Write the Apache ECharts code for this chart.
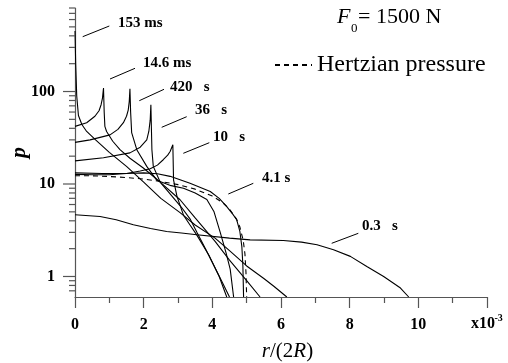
<!DOCTYPE html>
<html><head><meta charset="utf-8">
<script src="https://cdn.jsdelivr.net/npm/echarts@6/dist/echarts.min.js"></script>
<style>html,body{margin:0;padding:0;background:#fff}#c{width:508px;height:363px}</style>
</head><body><div id="c"></div>
<script>
// x in units of 1e-3 (r/(2R)), p values
const curve153ms = [[0,450],[0.02,200],[0.05,90],[0.1,55],[0.2,44],[0.34,37],[0.6,30],[1.0,22],[1.5,15.5],[2.0,10.5],[2.5,7.0],[3.06,4.9],[3.5,3.6],[4.08,2.6],[4.5,1.9],[5.0,1.3],[5.5,0.95],[5.8,0.78],[6.17,0.6]];
const curve14_6ms = [[0,42],[0.34,46],[0.58,54],[0.7,62],[0.76,72],[0.8,85],[0.83,109],[0.85,60],[0.87,42],[0.92,37],[1.1,29],[1.31,23.5],[1.6,19],[1.99,14.9],[2.48,10.5],[3.06,6.76],[3.5,4.3],[4.08,2.4],[4.5,1.5],[5.0,0.9],[5.39,0.6]];
const curve420s = [[0,28.2],[0.44,30],[1.02,34],[1.25,39],[1.41,46],[1.5,54],[1.55,63],[1.58,78],[1.6,107],[1.62,60],[1.65,36],[1.8,23.5],[2.09,15.5],[2.38,11],[2.8,9.6],[3.16,9.0],[3.5,8.0],[3.84,6.8],[4.05,5.0],[4.23,3.0],[4.4,1.8],[4.52,1.2],[4.62,0.6]];
const curve36s = [[0,17.8],[0.83,19.2],[1.6,21.7],[1.9,25],[2.09,30],[2.15,37],[2.19,49],[2.21,72],[2.24,23.5],[2.28,15.5],[2.48,10.5],[2.8,7.6],[3.1,5.6],[3.35,4.2],[3.55,3.0],[3.8,2.0],[4.1,1.2],[4.3,0.85],[4.5,0.6]];
const curve10s = [[0,12.7],[0.5,12.6],[1.0,12.6],[1.5,13.0],[1.9,13.8],[2.19,14.6],[2.4,16.0],[2.57,18.3],[2.7,20.5],[2.77,22.5],[2.85,26.6],[2.87,11.1],[2.97,7.35],[3.16,4.6],[3.35,3.6],[3.55,2.8],[3.9,1.7],[4.2,1.0],[4.42,0.6]];
const curve4_1s = [[0,13.2],[0.8,13.0],[1.5,13.0],[2.0,13.2],[2.4,12.9],[2.77,12.1],[3.35,10.2],[3.94,8.3],[4.2,7.0],[4.42,5.7],[4.6,4.7],[4.71,4.1],[4.8,3.1],[4.86,2.1],[4.89,1.3],[4.91,0.6]];
const curve0_3s = [[0,4.65],[0.73,4.46],[1.2,4.1],[1.7,3.63],[2.2,3.3],[2.67,3.07],[3.1,2.95],[3.55,2.83],[4.5,2.6],[5.1,2.49],[6.07,2.45],[6.6,2.35],[7.05,2.2],[7.53,1.95],[8.02,1.65],[8.5,1.28],[8.99,1.0],[9.48,0.75],[9.72,0.6]];
const hertzian = [[0,12.3],[0.5,12.25],[1,12.05],[1.5,11.75],[2,11.3],[2.5,10.65],[3,9.85],[3.5,8.8],[4,7.4],[4.3,6.3],[4.5,5.35],[4.7,4.2],[4.8,3.45],[4.9,2.45],[4.95,1.75],[4.98,1.1],[5.0,0.6]];
const yMajorTicks = [1, 10, 100];
const yMinorTicks = [0.7,0.8,0.9,2,3,4,5,6,7,8,9,20,30,40,50,60,70,80,90,200,300,400,500,600,700,800];
const curveLabels = ['153 ms','14.6 ms','420   s','36   s','10   s','4.1 s','0.3   s'];

const SERIF = '"Liberation Serif","Times New Roman",serif';
const AX = '#555';
const chart = echarts.init(document.getElementById('c'), null, {renderer:'canvas'});

function lineSeries(name, data, dashed){
  return {type:'line', name, data, showSymbol:false, symbol:'none', smooth:false,
    lineStyle:{color:'#000', width:1.1, type: dashed ? [5,4] : 'solid'},
    itemStyle:{color:'#000'}, silent:true, animation:false, z:3};
}
function tickSeries(values, len){
  return {type:'custom', data: values.map(v=>[0,v]), clip:false, silent:true, animation:false, z:4,
    renderItem:(params, api)=>{
      const p = api.coord([0, api.value(1)]);
      return {type:'line', shape:{x1:p[0]-len, y1:p[1], x2:p[0], y2:p[1]}, style:{stroke:AX, lineWidth:1.2}};
    }};
}
// annotation positions (pixels)
const labelPos = [[118,25],[143,65],[170,89],[195,112],[213,139],[262,180],[362,228]];
const leaderPos = [[82.7,36.7,109.3,26],[110,79,135,68.3],[139.3,100.7,164,89.3],[161.7,127.3,186.7,116.7],[183.3,153.3,209.3,142.7],[228.3,194,253.3,183.3],[331.7,243.3,358.3,233.3]];
const graphics = [];
curveLabels.forEach((t,i)=>{
  graphics.push({type:'text', left:labelPos[i][0], top:labelPos[i][1]-9, style:{text:t, font:'bold 15px '+SERIF, fill:'#000'}});
  const l = leaderPos[i];
  graphics.push({type:'line', shape:{x1:l[0],y1:l[1],x2:l[2],y2:l[3]}, style:{stroke:'#000', lineWidth:1}});
});
graphics.push({type:'text', left:337, top:6, style:{text:'F', font:'italic 22px '+SERIF, fill:'#000'}});
graphics.push({type:'text', left:351, top:22, style:{text:'0', font:'13px '+SERIF, fill:'#000'}});
graphics.push({type:'text', left:358, top:6, style:{text:'= 1500 N', font:'22px '+SERIF, fill:'#000'}});
graphics.push({type:'text', left:471, top:316, style:{text:'x10', font:'bold 16px '+SERIF, fill:'#000'}});
graphics.push({type:'text', left:494.5, top:313, style:{text:'-3', font:'bold 10px '+SERIF, fill:'#000'}});

chart.setOption({
  animation:false,
  grid:{left:75, right:21, top:8, bottom:66, containLabel:false, outerBoundsMode:'none'},
  legend:{data:['Hertzian pressure'], left:269, top:48, itemWidth:37, itemHeight:14, itemGap:5,
    itemStyle:{color:'rgba(0,0,0,0)', borderColor:'rgba(0,0,0,0)', borderWidth:0},
    textStyle:{fontFamily:SERIF, fontSize:24, color:'#000'}, selectedMode:false},
  xAxis:{type:'value', min:0, max:12, interval:2,
    axisLine:{onZero:false, lineStyle:{color:AX, width:1.2}},
    axisTick:{show:true, inside:false, length:11, lineStyle:{color:AX, width:1.2}},
    minorTick:{show:true, splitNumber:2, length:6, lineStyle:{color:AX, width:1.2}},
    splitLine:{show:false}, minorSplitLine:{show:false},
    axisLabel:{margin:20, fontFamily:SERIF, fontWeight:'bold', fontSize:16, color:'#000',
      formatter:v=> v===12 ? '' : String(v)},
    name:'{i|r}{n|/(2}{i|R}{n|)}', nameLocation:'middle', nameGap:44, nameMoveOverlap:false,
    nameTextStyle:{padding:[0,0,0,13], rich:{i:{fontFamily:SERIF, fontStyle:'italic', fontSize:21, color:'#000'}, n:{fontFamily:SERIF, fontSize:21, color:'#000'}}}
  },
  yAxis:{type:'log', logBase:10, min:0.6, max:800,
    axisLine:{show:true, onZero:false, lineStyle:{color:AX, width:1.2}},
    axisTick:{show:false}, splitLine:{show:false},
    axisLabel:{margin:20, fontFamily:SERIF, fontWeight:'bold', fontSize:16, color:'#000',
      formatter:v=>{const l=Math.log10(v); return Math.abs(l-Math.round(l))<1e-6 ? String(Math.round(Math.pow(10,Math.round(l)))) : '';}},
    name:'p', nameLocation:'middle', nameGap:45, nameRotate:90, nameMoveOverlap:false,
    nameTextStyle:{fontFamily:SERIF, fontStyle:'italic', fontWeight:'bold', fontSize:22, color:'#000'}
  },
  series:[
    lineSeries('153 ms', curve153ms),
    lineSeries('14.6 ms', curve14_6ms),
    lineSeries('420 s', curve420s),
    lineSeries('36 s', curve36s),
    lineSeries('10 s', curve10s),
    lineSeries('4.1 s', curve4_1s),
    lineSeries('0.3 s', curve0_3s),
    lineSeries('Hertzian pressure', hertzian, true),
    tickSeries(yMajorTicks, 12),
    tickSeries(yMinorTicks, 6)
  ],
  graphic: graphics
});
</script></body></html>
